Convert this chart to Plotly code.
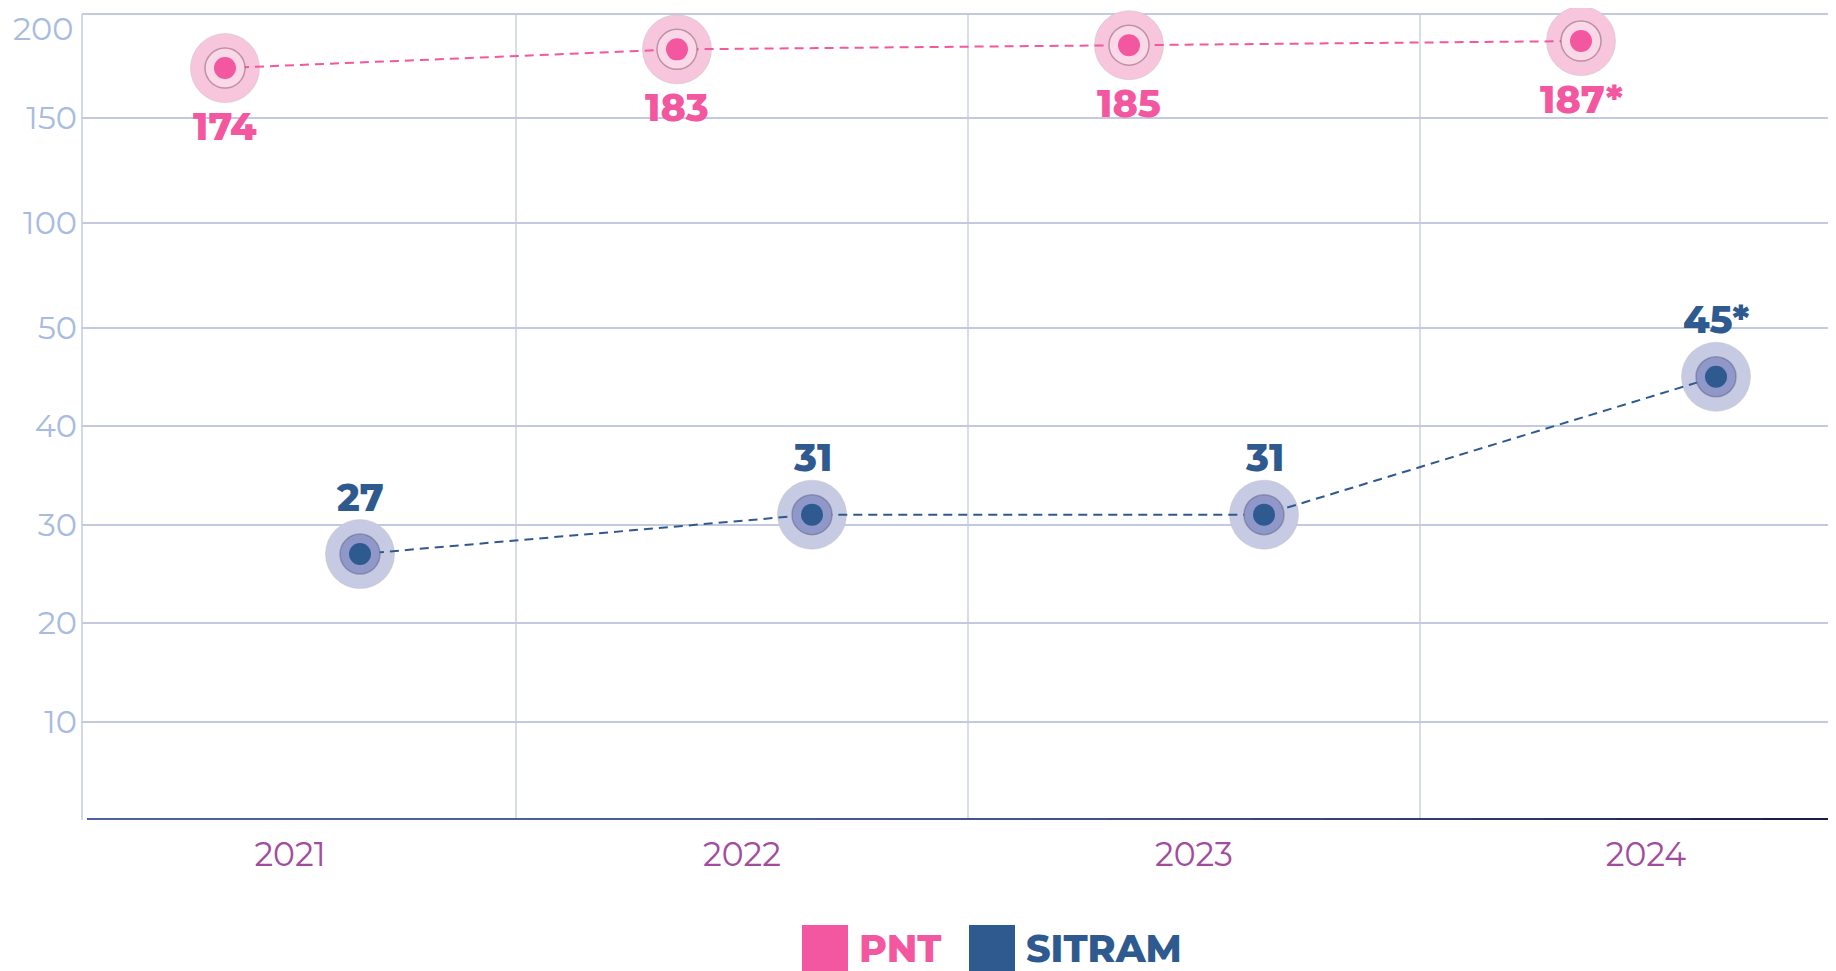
import numpy as np
import plotly.graph_objects as go

# ---------------- data ----------------
YEARS = ["2021", "2022", "2023", "2024"]
PNT = [174, 183, 185, 187]
SITRAM = [27, 31, 31, 45]
PNT_LABELS = ["174", "183", "185", "187*"]
SITRAM_LABELS = ["27", "31", "31", "45*"]
Y_TICKS = [10, 20, 30, 40, 50, 100, 150, 200]

# ---------------- broken y scale ----------------
BREAKS = [0, 10, 20, 30, 40, 50, 100, 150, 200]
BREAK_POS = [0, 98.5, 197, 295.5, 394, 492.5, 597, 702, 806]


def yscale(v):
    return np.interp(v, BREAKS, BREAK_POS)


# ---------------- layout constants ----------------
# page body has an 8px default margin: size the figure so it fits the window
OFF = 8
W, H = 1836 - OFF, 971 - OFF
L, R, T, B = 82 - OFF, 0, 0, 151
X0_PX, X_STEP = 290 - OFF, 452
PLOT_W, PLOT_H = W - L - R, H - T - B
Y_TOP = BREAK_POS[-1] + 6          # 1 unit == 1 px


def px_to_x(px):
    return (px - OFF - X0_PX) / X_STEP


def paper_x(px):
    return (px - OFF - L) / PLOT_W


def paper_y(py):
    return (H - B - (py - OFF)) / PLOT_H


FONT = "Montserrat, Inter, 'Open Sans', sans-serif"
PINK = "#f2579f"
NAVY = "#2f5a8f"
YTICK_COLOR = "#a8bbe0"
YTICK_SIZE = 32

SERIES = [
    dict(name="PNT", values=PNT, labels=PNT_LABELS, offset=-65 / X_STEP,
         color=PINK, halo="#f7c6dc", mid="#fad8e7",
         midline="rgba(140,95,115,0.55)", label_shift=-58),
    dict(name="SITRAM", values=SITRAM, labels=SITRAM_LABELS, offset=70 / X_STEP,
         color=NAVY, halo="#c6cbe3", mid="#8f98c9",
         midline="rgba(90,90,125,0.45)", label_shift=57),
]

fig = go.Figure()
annotations = []
cat_x = np.arange(len(YEARS))

for s in SERIES:
    xs = cat_x + s["offset"]
    ys = yscale(s["values"])
    fig.add_trace(go.Scatter(x=xs, y=ys, mode="markers", cliponaxis=False,
                             marker=dict(size=69, color=s["halo"],
                                         line=dict(width=1, color="rgba(200,190,200,0.5)")),
                             hoverinfo="skip", showlegend=False))
    fig.add_trace(go.Scatter(x=xs, y=ys, mode="lines", cliponaxis=False,
                             line=dict(color=s["color"], width=2, dash="9px,6px"),
                             name=s["name"], showlegend=False))
    fig.add_trace(go.Scatter(x=xs, y=ys, mode="markers", cliponaxis=False,
                             marker=dict(size=40, color=s["mid"],
                                         line=dict(width=1.5, color=s["midline"])),
                             hoverinfo="skip", showlegend=False))
    fig.add_trace(go.Scatter(x=xs, y=ys, mode="markers", cliponaxis=False,
                             marker=dict(size=22, color=s["color"]),
                             name=s["name"], showlegend=False))
    for x, y, lab in zip(xs, ys, s["labels"]):
        annotations.append(dict(x=x, y=y, xref="x", yref="y", text=lab,
                                showarrow=False, yshift=s["label_shift"],
                                xanchor="center", yanchor="middle",
                                font=dict(family=FONT, size=38, color=s["color"],
                                          weight=800)))

# top tick label sits just below its gridline (would overflow the page otherwise)
tick_text = [str(v) for v in Y_TICKS]
top_label = tick_text[-1]
tick_text[-1] = ""
annotations.append(dict(xref="paper", yref="y", x=0, y=yscale(Y_TICKS[-1]),
                        xanchor="right", yanchor="middle", xshift=-7, yshift=-14,
                        text=top_label, showarrow=False,
                        font=dict(family=FONT, size=YTICK_SIZE, color=YTICK_COLOR)))

shapes = []
# vertical category separators
for i in range(len(YEARS) - 1):
    shapes.append(dict(type="line", xref="x", yref="y", x0=i + 0.5, x1=i + 0.5,
                       y0=0, y1=BREAK_POS[-1], layer="below",
                       line=dict(color="#c3c9df", width=1.3)))

# bottom axis line with gradient (pixel-aligned filled rects)
N_SEG = 24
c0 = np.array([0x4f, 0x61, 0xa4])
c1 = np.array([0x17, 0x1f, 0x42])
xa, xb = paper_x(87), 1.0
seg = (xb - xa) / N_SEG
for k in range(N_SEG):
    t = k / (N_SEG - 1)
    c = (c0 + (c1 - c0) * t ** 2.5).astype(int)
    shapes.append(dict(type="rect", xref="paper", yref="y",
                       x0=xa + seg * k, x1=min(xb, xa + seg * (k + 1) + 0.002),
                       y0=-2, y1=2, layer="above",
                       fillcolor=f"rgb({c[0]},{c[1]},{c[2]})", line=dict(width=0)))

# manual legend
legend_items = [("PNT", PINK, 802, 857), ("SITRAM", NAVY, 969, 1024)]
for name, col, sq_x, tx in legend_items:
    shapes.append(dict(type="rect", xref="paper", yref="paper",
                       x0=paper_x(sq_x), x1=paper_x(sq_x + 46),
                       y0=paper_y(925), y1=paper_y(972),
                       fillcolor=col, line=dict(width=0)))
    annotations.append(dict(xref="paper", yref="paper", x=paper_x(tx), y=paper_y(948),
                            text=name, showarrow=False, xanchor="left", yanchor="middle",
                            font=dict(family=FONT, size=38, color=col, weight=800)))

fig.update_layout(
    width=W, height=H,
    margin=dict(l=L, r=R, t=T, b=B, pad=0, autoexpand=False),
    paper_bgcolor="white", plot_bgcolor="white",
    showlegend=False,
    shapes=shapes, annotations=annotations,
    xaxis=dict(range=[px_to_x(L + OFF), px_to_x(W - R + OFF)], tickvals=list(cat_x),
               ticktext=YEARS,
               showgrid=False, zeroline=False, showline=False, ticks="",
               automargin=False, ticklabelstandoff=12,
               tickfont=dict(family=FONT, size=33, color="#a24c9e")),
    yaxis=dict(range=[0, Y_TOP], tickvals=list(yscale(Y_TICKS)),
               ticktext=tick_text,
               showgrid=True, gridcolor="#c2c9e0", gridwidth=1.5,
               zeroline=False, showline=False,
               ticks="", ticklabelstandoff=4, automargin=False,
               tickfont=dict(family=FONT, size=YTICK_SIZE, color=YTICK_COLOR)),
)
# left axis line (from bottom to the top gridline)
fig.add_shape(type="line", xref="paper", yref="y", x0=0, x1=0, y0=-1,
              y1=BREAK_POS[-1], line=dict(color="#c3cbe2", width=1.5))

fig.write_html("out.html")
